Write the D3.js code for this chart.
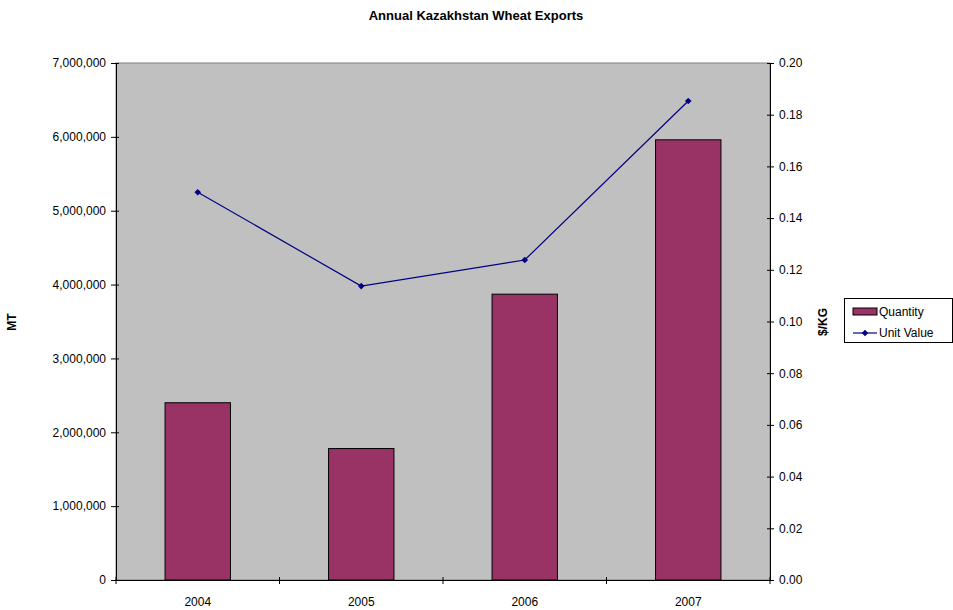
<!DOCTYPE html>
<html>
<head>
<meta charset="utf-8">
<script src="https://cdn.jsdelivr.net/npm/d3@7"></script>
<style>
  body { margin: 0; background: #fff; }
  text { font-family: "Liberation Sans", Arial, sans-serif; }
</style>
</head>
<body>
<svg width="953" height="610"></svg>
<script>
const years = ['2004', '2005', '2006', '2007']
const quantity = [2400000, 1780000, 3870000, 5960000]
const unitValue = [0.150, 0.1137, 0.1238, 0.1853]
const leftTicks = [0, 1000000, 2000000, 3000000, 4000000, 5000000, 6000000, 7000000]
const rightTicks = [0, 0.02, 0.04, 0.06, 0.08, 0.10, 0.12, 0.14, 0.16, 0.18, 0.20]

const LEFT = 116
const RIGHT = 770
const TOP = 63
const BOTTOM = 580

const svg = d3.select('svg')

const x = d3.scaleBand()
  .range([LEFT, RIGHT])
  .domain(years)
const yL = d3.scaleLinear()
  .range([BOTTOM, TOP])
  .domain([0, 7000000])
const yR = d3.scaleLinear()
  .range([BOTTOM, TOP])
  .domain([0, 0.2])

// plot area
svg.append('rect')
  .attr('x', LEFT).attr('y', TOP)
  .attr('width', RIGHT - LEFT).attr('height', BOTTOM - TOP)
  .attr('fill', '#c0c0c0')
  .attr('stroke', '#808080')

// bars
const barW = x.bandwidth() / 2.5
svg.selectAll('.bar')
  .data(years)
  .enter().append('rect')
    .attr('class', 'bar')
    .attr('x', d => x(d) + x.bandwidth() / 2 - barW / 2)
    .attr('y', (d, i) => yL(quantity[i]))
    .attr('width', barW)
    .attr('height', (d, i) => BOTTOM - yL(quantity[i]))
    .attr('fill', '#993366')
    .attr('stroke', '#000')
    .attr('stroke-width', 1)

// line
const line = d3.line()
  .x((d, i) => x(years[i]) + x.bandwidth() / 2)
  .y(d => yR(d))
svg.append('path')
  .datum(unitValue)
  .attr('d', line)
  .attr('fill', 'none')
  .attr('stroke', '#000080')
  .attr('stroke-width', 1.2)

const diamond = d3.symbol().type(d3.symbolDiamond2).size(28)
svg.selectAll('.pt')
  .data(unitValue)
  .enter().append('path')
    .attr('class', 'pt')
    .attr('d', diamond)
    .attr('fill', '#000080')
    .attr('transform', (d, i) => `translate(${x(years[i]) + x.bandwidth() / 2},${yR(d)})`)

// axes
const fmt = d3.format(',')
const left = svg.append('g')
  .attr('transform', `translate(${LEFT},0)`)
  .call(d3.axisLeft(yL).tickValues(leftTicks).tickFormat(fmt).tickSizeInner(5).tickSizeOuter(0))
left.selectAll('.tick line').attr('x2', -5).attr('x1', 3)

const right = svg.append('g')
  .attr('transform', `translate(${RIGHT},0)`)
  .call(d3.axisRight(yR).tickValues(rightTicks).tickFormat(d3.format('.2f')).tickSizeInner(4).tickSizeOuter(0))
right.selectAll('.tick line').attr('x1', -3)

const bottom = svg.append('g')
  .attr('transform', `translate(0,${BOTTOM})`)
  .call(d3.axisBottom(x).tickSize(0).tickPadding(17))
bottom.selectAll('.tick line').remove()
// category boundary ticks
const bounds = years.map(d => x(d)).concat([RIGHT])
bottom.selectAll('.bnd')
  .data(bounds)
  .enter().append('line')
    .attr('class', 'bnd')
    .attr('x1', d => d).attr('x2', d => d)
    .attr('y1', -3).attr('y2', 4)
    .attr('stroke', '#000')

svg.selectAll('.domain').attr('stroke', '#000')
svg.selectAll('.tick text')
  .attr('font-size', 12)
  .attr('font-family', '"Liberation Sans", Arial, sans-serif')
  .attr('fill', '#000')
left.selectAll('.tick text').attr('x', -10)
right.selectAll('.tick text').attr('x', 9)

// title
svg.append('text')
  .attr('x', 476).attr('y', 20)
  .attr('text-anchor', 'middle')
  .attr('font-size', 13).attr('font-weight', 'bold')
  .text('Annual Kazakhstan Wheat Exports')

svg.append('text')
  .attr('transform', 'translate(16,322) rotate(-90)')
  .attr('text-anchor', 'middle')
  .attr('font-size', 12).attr('font-weight', 'bold')
  .text('MT')

svg.append('text')
  .attr('transform', 'translate(827,322) rotate(-90)')
  .attr('text-anchor', 'middle')
  .attr('font-size', 12).attr('font-weight', 'bold')
  .text('$/KG')

// legend
const lg = svg.append('g').attr('transform', 'translate(844,298)')
lg.append('rect')
  .attr('x', 0.5).attr('y', 0.5).attr('width', 108).attr('height', 44)
  .attr('fill', '#fff').attr('stroke', '#000')
lg.append('rect')
  .attr('x', 9).attr('y', 10).attr('width', 24).attr('height', 7)
  .attr('fill', '#993366').attr('stroke', '#000')
lg.append('text').attr('x', 35).attr('y', 18).attr('font-size', 12).text('Quantity')
lg.append('line')
  .attr('x1', 9).attr('x2', 33).attr('y1', 35).attr('y2', 35)
  .attr('stroke', '#000080').attr('stroke-width', 1.2)
lg.append('path')
  .attr('d', diamond)
  .attr('fill', '#000080')
  .attr('transform', 'translate(21,35)')
lg.append('text').attr('x', 35).attr('y', 39).attr('font-size', 12).text('Unit Value')
</script>
</body>
</html>
